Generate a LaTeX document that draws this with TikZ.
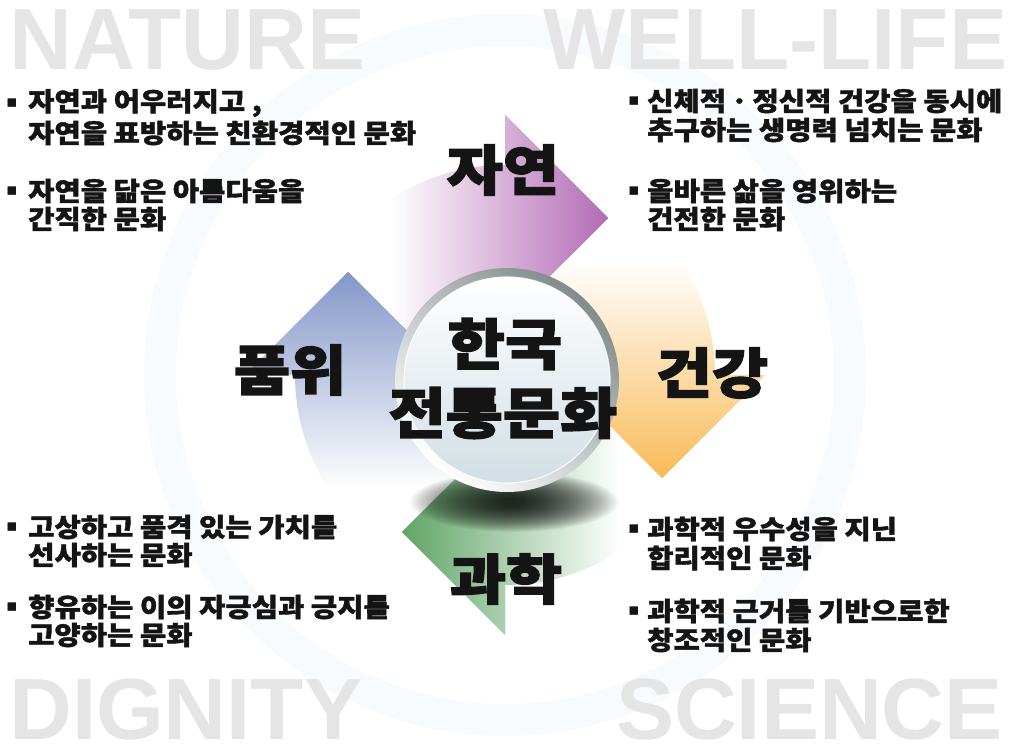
\documentclass[tikz,border=0pt]{standalone}
\usepackage{fontspec}
\newfontfamily\krtext{Noto Sans CJK KR}[BoldFeatures={FakeStretch=1.1,FakeBold=1.5}]
\newfontfamily\krbig{Noto Sans CJK KR}[BoldFeatures={FakeStretch=1.13,FakeBold=2.6}]
\newfontfamily\lat{Liberation Sans}
\newfontfamily\dv{DejaVu Sans}
\definecolor{purpC}{RGB}{178,106,180}
\definecolor{yelC}{RGB}{248,186,86}
\definecolor{grnC}{RGB}{96,164,102}
\definecolor{bluC}{RGB}{130,150,200}
\definecolor{bgGrey}{RGB}{229,229,229}
\definecolor{faint}{RGB}{248,251,253}
\definecolor{ringD}{RGB}{130,140,140}
\definecolor{innerB}{RGB}{210,222,228}
\begin{document}
\begin{tikzpicture}[x=1pt,y=-1pt,
  bgword/.style={font=\lat\bfseries\fontsize{87}{87}\selectfont, text=bgGrey, inner sep=0, text depth=0pt},
  txtline/.style={font=\krtext\bfseries\fontsize{26}{30}\selectfont, anchor=west, inner sep=0, text=black!92},
  bul/.style={font=\dv\fontsize{17}{17}\selectfont, inner sep=0, text=black!92},
  biglabel/.style={font=\krbig\bfseries\fontsize{54}{54}\selectfont, inner sep=0, text=black!92},
  centre/.style={font=\krbig\bfseries\fontsize{55}{55}\selectfont, inner sep=0, text=black!92}]
\useasboundingbox (0,0) rectangle (1009,751);
\fill[white] (0,0) rectangle (1009,751);

% faint background ring
\draw[faint, line width=32] (505,375) circle[radius=345];

% background words
\node[bgword, anchor=base west] (nature) at (9,70) {NATURE};
\node[bgword, anchor=base west] (wellife) at (543,70) {WELL-LIFE};
\node[bgword, anchor=base west] (dignity) at (9,739) {DIGNITY};
\node[bgword, anchor=base east] (science) at (1003,739) {SCIENCE};

% ---------- arrow bands (full shapes) ----------
% purple (top)
\begin{scope}
\clip ([shift={(505,375)}]180:210) arc[start angle=180,end angle=270,radius=210]
  -- (505,115) -- (608,218) -- (505,321) -- (505,271)
  arc[start angle=270,end angle=180,radius=104] -- cycle;
\shade[left color=white, right color=purpC] (390,110) rectangle (610,330);
\end{scope}
% yellow (right)
\begin{scope}
\clip ([shift={(505,375)}]270:210) arc[start angle=270,end angle=360,radius=210]
  -- (765,375) -- (662,478) -- (559,375) -- (609,375)
  arc[start angle=360,end angle=270,radius=104] -- cycle;
\shade[top color=white, bottom color=yelC] (550,260) rectangle (770,480);
\end{scope}
% green (bottom)
\begin{scope}
\clip ([shift={(505,375)}]0:210) arc[start angle=0,end angle=90,radius=210]
  -- (505,635) -- (402,532) -- (505,429) -- (505,479)
  arc[start angle=90,end angle=0,radius=104] -- cycle;
\shade[left color=grnC, right color=white] (400,420) rectangle (620,640);
\end{scope}
% blue (left)
\begin{scope}
\clip ([shift={(505,375)}]90:210) arc[start angle=90,end angle=180,radius=210]
  -- (245,375) -- (348,272) -- (451,375) -- (401,375)
  arc[start angle=180,end angle=90,radius=104] -- cycle;
\shade[top color=bluC, bottom color=white] (240,270) rectangle (460,490);
\end{scope}

% ---------- arrow heads on top of the following tails ----------
\begin{scope}
\clip (505,115) -- (608,218) -- (505,321) -- cycle;
\shade[left color=white, right color=purpC] (390,110) rectangle (610,330);
\end{scope}
\begin{scope}
\clip (765,375) -- (662,478) -- (559,375) -- cycle;
\shade[top color=white, bottom color=yelC] (550,260) rectangle (770,480);
\end{scope}
\begin{scope}
\clip (505,635) -- (402,532) -- (505,429) -- cycle;
\shade[left color=grnC, right color=white] (400,420) rectangle (620,640);
\end{scope}
\begin{scope}
\clip (245,375) -- (348,272) -- (451,375) -- cycle;
\shade[top color=bluC, bottom color=white] (240,270) rectangle (460,490);
\end{scope}

% shadow under the centre circle
\foreach \i in {0,...,39}{
  \fill[black, opacity=0.034] (514,502) ellipse[x radius={104-2.4*\i}, y radius={30-0.65*\i}];
}

% centre circle
\shade[top color=ringD, bottom color=white, shading angle=-40] (507,380) circle[radius=112];
\shade[top color=white, bottom color=innerB] (507,380) circle[radius=103];
\draw[white, line width=1.2, opacity=0.8] (507,380) circle[radius=103];

% labels
\node[biglabel] (jayeon) at (503,170) {자연};
\node[biglabel] (geongang) at (712,373) {건강};
\node[biglabel] (pumwi) at (290,370) {품위};
\node[biglabel] (gwahak) at (506,579) {과학};
\node[centre] (hanguk) at (505,344) {한국};
\node[centre] (jeontong) at (503,413) {전통문화};

% top-left
\node[bul] (b1) at (12,103) {▪};
\node[txtline] (t1a) at (28,103) {자연과 어우러지고 ,};
\node[txtline] (t1b) at (28,133) {자연을 표방하는 친환경적인 문화};
\node[bul] (b2) at (12,191) {▪};
\node[txtline] (t2a) at (28,191) {자연을 닮은 아름다움을};
\node[txtline] (t2b) at (28,219) {간직한 문화};
% top-right
\node[bul] (b3) at (634,101) {▪};
\node[txtline] (t3a) at (647,101) {신체적ㆍ정신적 건강을 동시에};
\node[txtline] (t3b) at (647,130) {추구하는 생명력 넘치는 문화};
\node[bul] (b4) at (634,191) {▪};
\node[txtline] (t4a) at (647,191) {올바른 삶을 영위하는};
\node[txtline] (t4b) at (647,219) {건전한 문화};
% bottom-left
\node[bul] (b5) at (12,527) {▪};
\node[txtline] (t5a) at (28,527) {고상하고 품격 있는 가치를};
\node[txtline] (t5b) at (28,555) {선사하는 문화};
\node[bul] (b6) at (12,607) {▪};
\node[txtline] (t6a) at (28,607) {향유하는 이의 자긍심과 긍지를};
\node[txtline] (t6b) at (28,635) {고양하는 문화};
% bottom-right
\node[bul] (b7) at (634,529) {▪};
\node[txtline] (t7a) at (647,529) {과학적 우수성을 지닌};
\node[txtline] (t7b) at (647,558) {합리적인 문화};
\node[bul] (b8) at (634,611) {▪};
\node[txtline] (t8a) at (647,611) {과학적 근거를 기반으로한};
\node[txtline] (t8b) at (647,640) {창조적인 문화};
\end{tikzpicture}
\end{document}
